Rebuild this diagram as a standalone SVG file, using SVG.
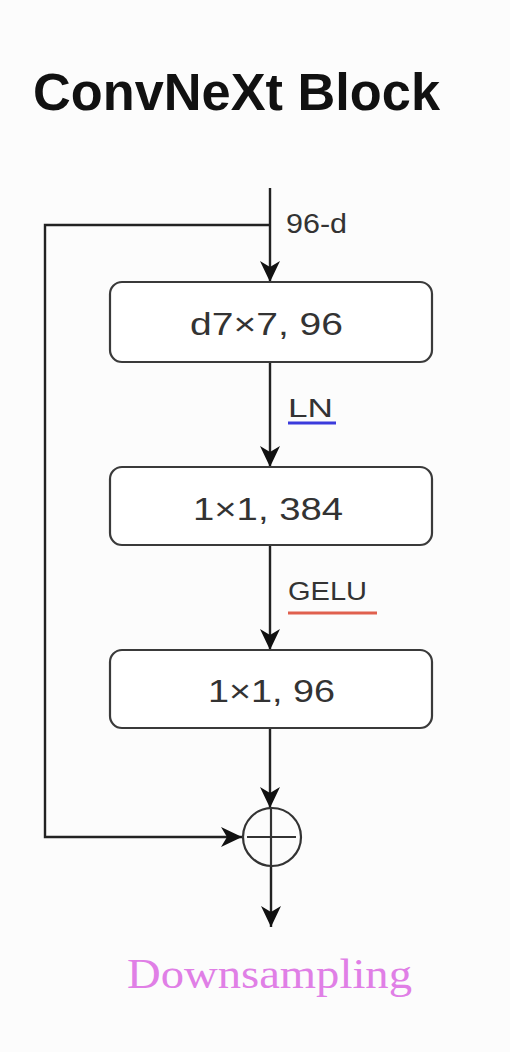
<svg xmlns="http://www.w3.org/2000/svg" width="510" height="1052" viewBox="0 0 510 1052">
  <style>
    .box { fill: #ffffff; stroke: #3a3a3a; stroke-width: 2.2; }
    .lbl { font-family: "Liberation Sans", Arial, sans-serif; fill: #333333; }
    .edge { fill: none; stroke: #222222; stroke-width: 2.4; }
  </style>
  <defs>
    <marker id="arr" markerUnits="userSpaceOnUse" markerWidth="24" markerHeight="24" viewBox="0 0 24 24" refX="22" refY="12" orient="auto">
      <path d="M22,12 L1,2 L7,12 L1,22 Z" fill="#111111"/>
    </marker>
  </defs>
  <rect width="510" height="1052" fill="#fcfcfc"/>

  <text x="33" y="110" font-family="'Liberation Sans', Arial, sans-serif" font-weight="bold" font-size="51" fill="#111111" textLength="407" lengthAdjust="spacingAndGlyphs">ConvNeXt Block</text>

  <g id="connectors">
    <line class="edge" x1="270" y1="188" x2="270" y2="282" marker-end="url(#arr)"/>
    <polyline class="edge" points="270,225 45,225 45,837 242,837" marker-end="url(#arr)"/>
    <line class="edge" x1="270" y1="362" x2="270" y2="467" marker-end="url(#arr)"/>
    <line class="edge" x1="270" y1="545" x2="270" y2="650" marker-end="url(#arr)"/>
    <line class="edge" x1="270" y1="728" x2="270" y2="808" marker-end="url(#arr)"/>
    <line class="edge" x1="271" y1="866" x2="271" y2="927" marker-end="url(#arr)"/>
    <text class="lbl" x="286" y="233" font-size="27" fill="#555555" textLength="61" lengthAdjust="spacingAndGlyphs">96-d</text>
    <g id="label-ln">
      <text class="lbl" x="288" y="417" font-size="26" textLength="45" lengthAdjust="spacingAndGlyphs">LN</text>
      <line x1="288" y1="423" x2="336" y2="423" stroke="#3b3bdc" stroke-width="3"/>
    </g>
    <g id="label-gelu">
      <text class="lbl" x="288" y="600" font-size="25" textLength="79" lengthAdjust="spacingAndGlyphs">GELU</text>
      <line x1="288" y1="613" x2="377" y2="613" stroke="#e0604e" stroke-width="3.2"/>
    </g>
  </g>

  <g id="node-dwconv">
    <rect class="box" x="110" y="282" width="322" height="80" rx="12"/>
    <text class="lbl" x="190" y="335" font-size="32" textLength="153" lengthAdjust="spacingAndGlyphs">d7×7, 96</text>
  </g>
  <g id="node-pw1">
    <rect class="box" x="110" y="467" width="322" height="78" rx="12"/>
    <text class="lbl" x="193" y="520" font-size="32" textLength="150" lengthAdjust="spacingAndGlyphs">1×1, 384</text>
  </g>
  <g id="node-pw2">
    <rect class="box" x="110" y="650" width="322" height="78" rx="12"/>
    <text class="lbl" x="208" y="702" font-size="32" textLength="127" lengthAdjust="spacingAndGlyphs">1×1, 96</text>
  </g>
  <g id="node-add">
    <circle cx="272" cy="837" r="29" fill="none" stroke="#333333" stroke-width="2.2"/>
    <line x1="247" y1="837" x2="296" y2="837" stroke="#333333" stroke-width="2.2"/>
    <line x1="271" y1="808" x2="271" y2="866" stroke="#333333" stroke-width="2.2"/>
  </g>
  <g id="node-downsampling">
    <text x="127" y="988" font-family="'Liberation Serif', 'Times New Roman', serif" font-size="43" fill="#e07fe6" textLength="285" lengthAdjust="spacingAndGlyphs">Downsampling</text>
  </g>
</svg>
